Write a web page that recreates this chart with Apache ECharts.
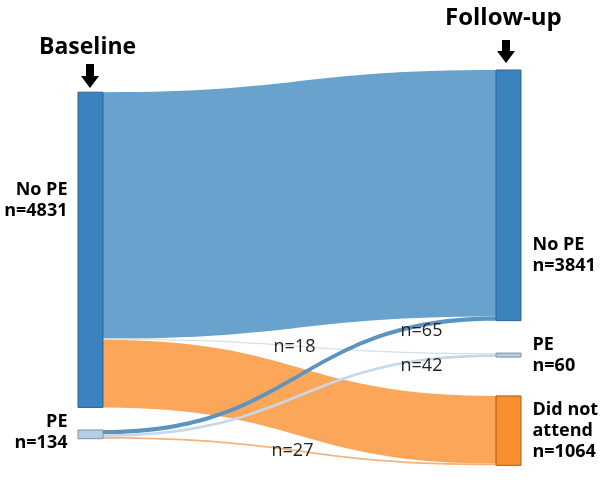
<!DOCTYPE html>
<html>
<head>
<meta charset="utf-8">
<script src="https://cdn.jsdelivr.net/npm/echarts@6/dist/echarts.min.js"></script>
<style>html,body{margin:0;padding:0;background:#fff;}#c{width:608px;height:497px;}</style>
</head>
<body>
<div id="c"></div>
<script>
const baselineNames = ['No PE', 'PE'];
const baselineCounts = [4831, 134];
const followNames = ['No PE', 'PE', 'Did not\nattend'];
const followCounts = [3841, 60, 1064];
// [from baseline index, to follow-up index, count]
const flows = [
  [0, 0, 3776],
  [0, 1, 18],
  [0, 2, 1037],
  [1, 0, 65],
  [1, 1, 42],
  [1, 2, 27]
];
const shownFlowLabels = ['', 'n=18', '', 'n=65', 'n=42', 'n=27'];

const baseColors = ['#3a83bf', '#b7cde7'];
const baseBorders = ['#2d6590', '#7f8ea3'];
const followColors = ['#3a83bf', '#b7cde7', '#fa8f2e'];
const followBorders = ['#2d6590', '#7f8ea3', '#a8581c'];
const flowColors = ['#69a3cd', '#d3e0ee', '#fca65a', '#5b93c1', '#c7d8eb', '#f2b47c'];
const baseLocalY = [0.056, 0.909];
const followLocalY = [0, 0.715, 0.823];
const baseLabelOffsets = [[0, -49], [0, -2]];
const followLabelOffsets = [[0, 60], [0, 0], [0, 0]];
const flowLabelOffsets = [[0, 0], [-5, 0], [0, 0], [122, -44], [122, -30], [-7, 0]];

const nodes = [];
baselineNames.forEach((n, i) => nodes.push({
  name: 'B' + i, depth: 0, localY: baseLocalY[i],
  itemStyle: { color: baseColors[i], borderColor: baseBorders[i], borderWidth: 1 },
  label: { position: 'left', distance: 10, align: 'right', offset: baseLabelOffsets[i], formatter: n + '\nn=' + baselineCounts[i] }
}));
followNames.forEach((n, i) => nodes.push({
  name: 'F' + i, depth: 1, localY: followLocalY[i],
  itemStyle: { color: followColors[i], borderColor: followBorders[i], borderWidth: 1 },
  label: { position: 'right', distance: 11, align: 'left', offset: followLabelOffsets[i], formatter: n + '\nn=' + followCounts[i] }
}));
const links = flows.map((f, k) => ({
  source: 'B' + f[0], target: 'F' + f[1], value: f[2],
  lineStyle: { color: flowColors[k], opacity: 1 },
  edgeLabel: { show: shownFlowLabels[k] !== '', formatter: shownFlowLabels[k], offset: flowLabelOffsets[k] }
}));

const chart = echarts.init(document.getElementById('c'), null, { renderer: 'canvas' });
chart.setOption({
  animation: false,
  backgroundColor: '#ffffff',
  graphic: [
    { type: 'text', left: 39, top: 36, style: { text: 'Baseline', font: 'bold 23px "Open Sans", sans-serif', fill: '#000' } },
    { type: 'text', left: 445, top: 6, style: { text: 'Follow-up', font: 'bold 24px "Open Sans", sans-serif', fill: '#000' } },
    { type: 'polygon', shape: { points: [[86, 64], [94, 64], [94, 76], [99, 76], [90, 88], [81, 76], [86, 76]] }, style: { fill: '#000' } },
    { type: 'polygon', shape: { points: [[502, 40], [510, 40], [510, 51], [515, 51], [506, 63], [497, 51], [502, 51]] }, style: { fill: '#000' } }
  ],
  series: [{
    type: 'sankey',
    left: 78, top: 70, right: 87, bottom: 31,
    nodeWidth: 25,
    nodeGap: 36,
    layoutIterations: 0,
    draggable: false,
    emphasis: { disabled: true },
    label: { color: '#000', fontFamily: '"Open Sans", sans-serif', fontWeight: 'bold', fontSize: 18, lineHeight: 21 },
    edgeLabel: { color: '#222', fontFamily: '"Open Sans", sans-serif', fontSize: 18 },
    lineStyle: { curveness: 0.5 },
    data: nodes,
    links: links
  }]
});
</script>
</body>
</html>
